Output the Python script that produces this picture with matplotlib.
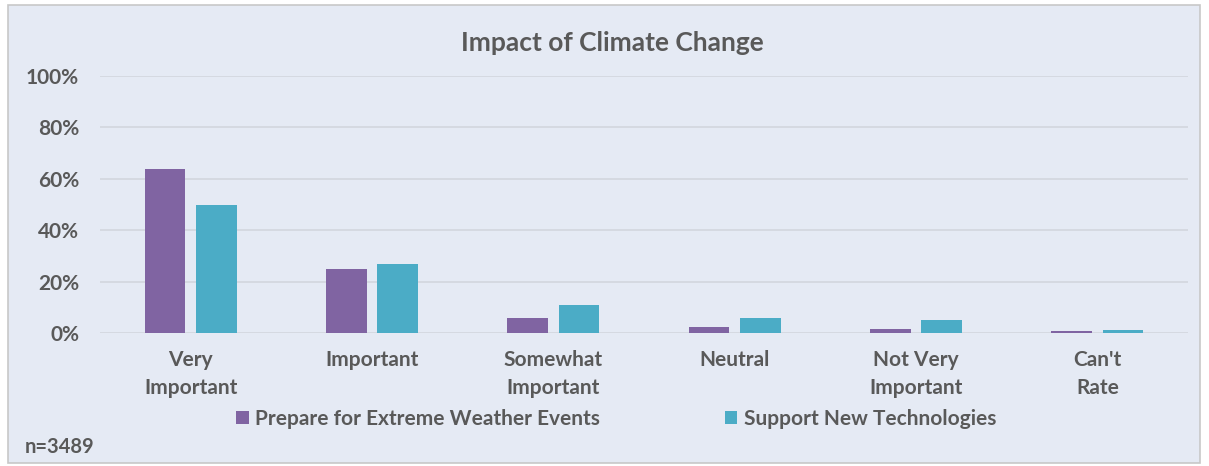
import numpy as np
import matplotlib.pyplot as plt
from matplotlib.patches import Rectangle

categories = ['Very\nImportant', 'Important', 'Somewhat\nImportant', 'Neutral',
              'Not Very\nImportant', "Can't\nRate"]
prepare = [64, 25, 6, 2.5, 1.5, 0.8]
support = [50, 27, 11, 6, 5, 1.2]
series_names = ['Prepare for Extreme Weather Events', 'Support New Technologies']

plt.rcParams['font.family'] = ['Lato', 'DejaVu Sans']
txt = '#595959'
bg = '#E5EAF4'

fig = plt.figure(figsize=(12.09, 4.66), dpi=100)
fig.patch.set_facecolor('white')
# chart frame
fig.patches.append(Rectangle((8 / 1209, 3 / 466), 1192 / 1209, 458 / 466,
                             transform=fig.transFigure, facecolor=bg,
                             edgecolor='#C8C8C8', linewidth=1.2, zorder=-10))

ax = fig.add_axes([100 / 1209, (466 - 333) / 466, 1088 / 1209, 257 / 466])
ax.set_facecolor('none')

x = np.arange(len(categories))
w = 0.225
ax.bar(x - 0.142, prepare, w, color='#8064A2', label=series_names[0], zorder=3)
ax.bar(x + 0.142, support, w, color='#4BACC6', label=series_names[1], zorder=3)

ax.set_xlim(-0.5, len(categories) - 0.5)
ax.set_ylim(0, 100)
ax.set_yticks(range(0, 101, 20))
ax.set_yticklabels([f'{v}%' for v in range(0, 101, 20)])
ax.grid(axis='y', color='#D4D8E0', linewidth=1.3, zorder=0)
for s in ax.spines.values():
    s.set_visible(False)
ax.tick_params(length=0, colors=txt, labelsize=15)
ax.tick_params(axis='y', pad=15)
ax.tick_params(axis='x', pad=12)
ax.set_xticks(x)
ax.set_xticklabels(categories, fontweight='bold', linespacing=1.55)
for lbl in ax.get_yticklabels():
    lbl.set_fontweight('bold')

fig.text(612 / 1209, 1 - 43 / 466, 'Impact of Climate Change', ha='center',
         va='center', fontsize=19, fontweight='bold', color=txt)

leg = fig.legend(loc='center', bbox_to_anchor=(616 / 1209, 1 - 419 / 466), ncol=2,
                 frameon=False, handlelength=0.6, handleheight=0.6,
                 handletextpad=0.3, columnspacing=6,
                 prop={'size': 15, 'weight': 'bold'})
for t in leg.get_texts():
    t.set_color(txt)

fig.text(25 / 1209, 1 - 447 / 466, 'n=3489', ha='left', va='center',
         fontsize=14.5, fontweight='bold', color=txt)

fig.savefig('out.png', dpi=100)
